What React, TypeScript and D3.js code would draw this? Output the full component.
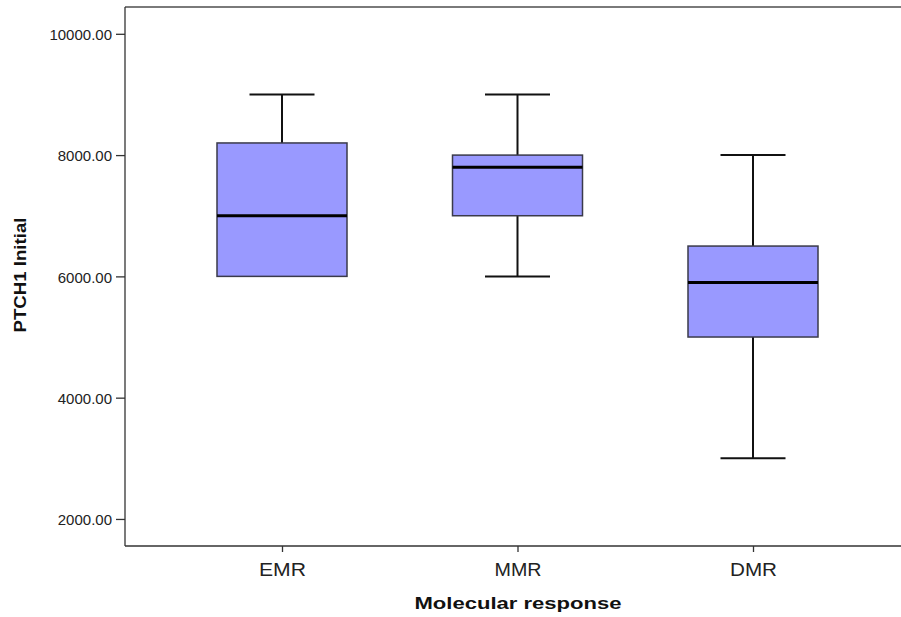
import React, { useEffect, useRef } from "react";
import * as d3 from "d3";

const categories = ["EMR", "MMR", "DMR"];
const whiskerLow = [6000, 6000, 3000];
const q1 = [6000, 7000, 5000];
const medians = [7000, 7800, 5900];
const q3 = [8200, 8000, 6500];
const whiskerHigh = [9000, 9000, 8000];
const yTicks = [2000, 4000, 6000, 8000, 10000];

const W = 901;
const H = 617;

export default function App() {
  const ref = useRef<SVGSVGElement | null>(null);

  useEffect(() => {
    const svg = d3.select(ref.current);
    svg.selectAll("*").remove();

    const left = 125, top = 7, bottom = 546, right = 905;
    const y = d3.scaleLinear().domain([1554, 10442]).range([bottom, top]);
    const x = d3.scalePoint<string>().domain(categories).range([282, 753]);
    const font = "'Liberation Sans', Arial, sans-serif";

    // frame
    svg.append("line").attr("x1", left).attr("x2", right).attr("y1", top).attr("y2", top)
      .attr("stroke", "#7a7a7a").attr("stroke-width", 2);

    // y axis
    const yAxis = svg.append("g").attr("transform", `translate(${left},0)`)
      .call(d3.axisLeft(y).tickValues(yTicks).tickFormat(d3.format(".2f")).tickSize(9).tickSizeOuter(0));
    yAxis.select(".domain").attr("stroke", "#333").attr("stroke-width", 1.3)
      .attr("d", `M0,${top}V${bottom}`);
    yAxis.selectAll(".tick line").attr("stroke", "#333").attr("stroke-width", 1.3);
    yAxis.selectAll(".tick text").attr("font-family", font).attr("font-size", 15)
      .attr("fill", "#222").attr("x", -13).attr("dy", "0.38em");

    // x axis
    const xAxis = svg.append("g").attr("transform", `translate(0,${bottom})`)
      .call(d3.axisBottom(x).tickSize(6).tickSizeOuter(0));
    xAxis.select(".domain").attr("stroke", "#333").attr("stroke-width", 1.3)
      .attr("d", `M${left},0H${right}`);
    xAxis.selectAll(".tick line").attr("stroke", "#333").attr("stroke-width", 1.3);
    xAxis.selectAll(".tick text").attr("font-family", font).attr("font-size", 18)
      .attr("fill", "#222").attr("y", 17).attr("dy", "0.71em")
      .attr("textLength", 47).attr("lengthAdjust", "spacingAndGlyphs");

    const boxW = 130;
    const capW = 65;
    const g = svg.append("g");
    categories.forEach((c, i) => {
      const cx = x(c)!;
      // whiskers
      if (whiskerHigh[i] > q3[i]) {
        g.append("line").attr("x1", cx).attr("x2", cx).attr("y1", y(whiskerHigh[i])).attr("y2", y(q3[i]))
          .attr("stroke", "#111").attr("stroke-width", 2);
        g.append("line").attr("x1", cx - capW / 2).attr("x2", cx + capW / 2)
          .attr("y1", y(whiskerHigh[i])).attr("y2", y(whiskerHigh[i]))
          .attr("stroke", "#111").attr("stroke-width", 2);
      }
      if (whiskerLow[i] < q1[i]) {
        g.append("line").attr("x1", cx).attr("x2", cx).attr("y1", y(q1[i])).attr("y2", y(whiskerLow[i]))
          .attr("stroke", "#111").attr("stroke-width", 2);
        g.append("line").attr("x1", cx - capW / 2).attr("x2", cx + capW / 2)
          .attr("y1", y(whiskerLow[i])).attr("y2", y(whiskerLow[i]))
          .attr("stroke", "#111").attr("stroke-width", 2);
      }
      // box
      g.append("rect").attr("x", cx - boxW / 2).attr("width", boxW)
        .attr("y", y(q3[i])).attr("height", y(q1[i]) - y(q3[i]))
        .attr("fill", "#9999ff").attr("stroke", "#3a3a4a").attr("stroke-width", 1.5);
      // median
      g.append("line").attr("x1", cx - boxW / 2).attr("x2", cx + boxW / 2)
        .attr("y1", y(medians[i])).attr("y2", y(medians[i]))
        .attr("stroke", "#000").attr("stroke-width", 3);
    });

    // axis titles
    svg.append("text").attr("x", 518).attr("y", 609).attr("text-anchor", "middle")
      .attr("font-family", font).attr("font-weight", "bold").attr("font-size", 16)
      .attr("fill", "#111").attr("textLength", 207).attr("lengthAdjust", "spacingAndGlyphs")
      .text("Molecular response");
    svg.append("text").attr("transform", "translate(26,275) rotate(-90)").attr("text-anchor", "middle")
      .attr("font-family", font).attr("font-weight", "bold").attr("font-size", 16)
      .attr("fill", "#111").attr("textLength", 115).attr("lengthAdjust", "spacingAndGlyphs")
      .text("PTCH1 Initial");
  }, []);

  return (
    <svg ref={ref} width={W} height={H}
      style={{ position: "absolute", left: 0, top: 0, display: "block", background: "#fff" }} />
  );
}
